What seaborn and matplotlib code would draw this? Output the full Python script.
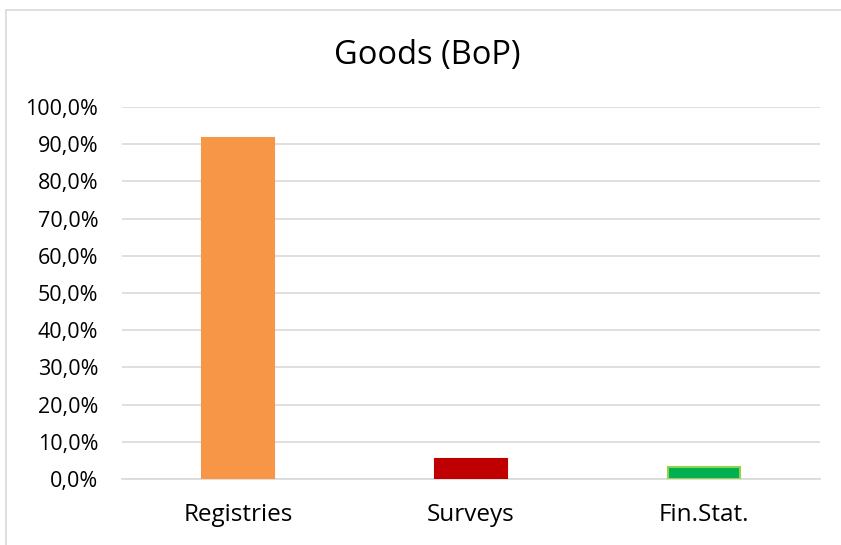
import matplotlib
matplotlib.use("Agg")
import matplotlib.pyplot as plt
from matplotlib.ticker import FuncFormatter, MultipleLocator
from matplotlib.lines import Line2D
import seaborn as sns
import pandas as pd

categories = ["Registries", "Surveys", "Fin.Stat."]
values = [0.916, 0.055, 0.031]
colors = ["#F79646", "#C00000", "#00B050"]
edges = ["#F79646", "#C00000", "#92D050"]
title = "Goods (BoP)"

sns.set_theme(style="white")
plt.rcParams["font.family"] = ["Open Sans", "DejaVu Sans"]

fig = plt.figure(figsize=(8.41, 5.45), dpi=100)
ax = fig.add_axes([122/841, 1-479/545, (820-122)/841, (479-107)/545])

df = pd.DataFrame({"cat": categories, "val": values})
sns.barplot(data=df, x="cat", y="val", hue="cat", palette=colors, legend=False,
            width=0.31, ax=ax, zorder=3, saturation=1)
for p, ec in zip(ax.patches, edges):
    p.set_edgecolor(ec)
    p.set_linewidth(1.5)

ax.set_ylim(0, 1.0)
ax.set_xlim(-0.5, 2.5)
ax.yaxis.set_major_locator(MultipleLocator(0.1))
ax.yaxis.set_major_formatter(FuncFormatter(lambda v, p: f"{v*100:.1f}%".replace(".", ",")))
ax.grid(axis="y", color="#D9D9D9", linewidth=1.2, zorder=0)
ax.grid(axis="x", visible=False)
for s in ["top", "right", "left"]:
    ax.spines[s].set_visible(False)
ax.spines["bottom"].set_color("#D9D9D9")
ax.spines["bottom"].set_linewidth(1.2)
ax.set_xlabel("")
ax.set_ylabel("")
ax.tick_params(axis="y", labelsize=15.5, colors="#000000", length=0, pad=17)
ax.tick_params(axis="x", labelsize=17.5, colors="#000000", length=0, pad=17)

fig.text(427/841, 1-55/545, title, ha="center", va="center", fontsize=23.5, color="#000000")

# chart border (top and left)
fig.add_artist(Line2D([6/841, 6/841], [0, 1-10/545], transform=fig.transFigure, color="#D9D9D9", linewidth=1.2))
fig.add_artist(Line2D([6/841, 1], [1-10/545, 1-10/545], transform=fig.transFigure, color="#D9D9D9", linewidth=1.2))

fig.savefig("out.png", dpi=100)
